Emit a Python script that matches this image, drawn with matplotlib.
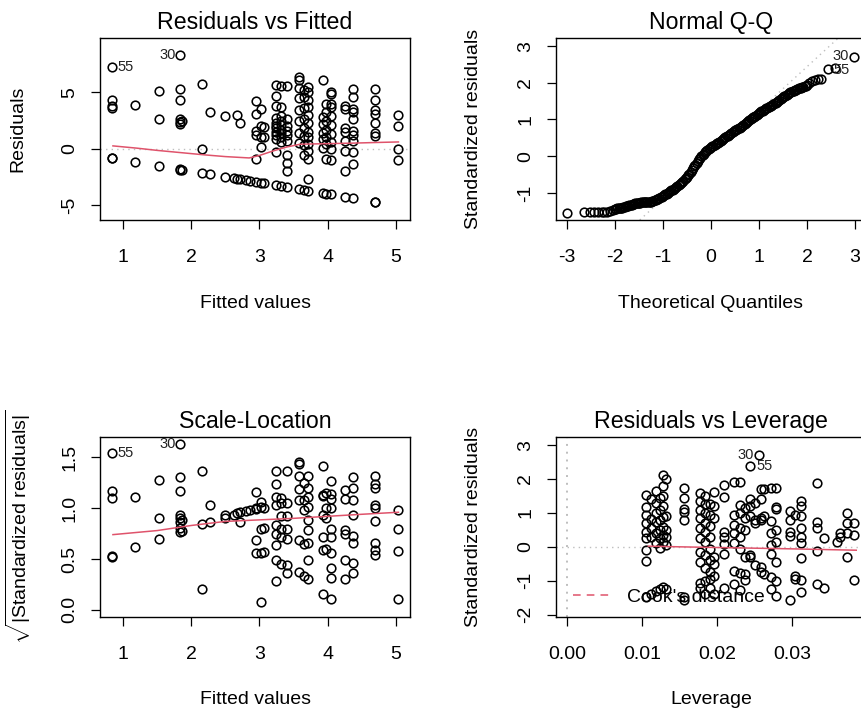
import matplotlib
matplotlib.use('Agg')
import matplotlib.pyplot as plt
from matplotlib.lines import Line2D
import numpy as np

plt.rcParams['font.family'] = 'Liberation Sans'
plt.rcParams['mathtext.fontset'] = 'custom'
plt.rcParams['mathtext.rm'] = 'Liberation Sans'
plt.rcParams['mathtext.it'] = 'Liberation Sans:italic'
plt.rcParams['axes.unicode_minus'] = False

RED = '#DF536B'
GRAY = '#BEBEBE'

# ---- Residuals vs Fitted: (fitted value, residuals at that fitted value)
rvf_columns = [
    (0.83, [7.26, 4.35, 3.75, 3.65, -0.83, -0.85]),
    (1.18, [3.9, -1.18]),
    (1.52, [5.09, 2.6, -1.52]),
    (1.84, [8.28, 5.3, 4.35, 2.6, 2.35, 2.15, -1.84, -1.86]),
    (1.87, [2.5, -1.87]),
    (2.16, [5.78, -0.03, -2.16]),
    (2.28, [3.3, -2.28]),
    (2.49, [2.86, -2.49]),
    (2.63, [-2.63]),
    (2.67, [2.97, -2.67]),
    (2.72, [2.32, -2.72]),
    (2.80, [-2.80]),
    (2.86, [-2.86]),
    (2.95, [4.2, 3.1, 1.6, 1.2, -0.9, -2.95]),
    (3.03, [3.57, 2.05, 1.07, 0.18, -3.03]),
    (3.07, [1.9, 1.0, -3.07]),
    (3.25, [5.7, 4.7, 3.8, 2.7, 2.3, 2.0, 1.8, 1.5, 1.2, 0.9, -0.3, -3.25]),
    (3.32, [5.6, 3.7, 2.9, 2.5, 2.1, 1.7, 1.4, 1.0, 0.6, -3.32]),
    (3.40, [5.6, 2.6, 2.0, 1.6, 1.2, 0.7, -0.6, -1.3, -2.0, -3.40]),
    (3.58, [6.4, 6.1, 5.4, 4.5, 3.4, 2.5, 1.4, 0.5, -3.58]),
    (3.65, [5.2, 4.6, 3.6, 2.6, 1.8, 1.1, 0.3, -0.6, -3.65]),
    (3.72, [5.5, 5.0, 4.3, 3.7, 3.0, 2.3, 1.5, 1.0, 0.4, -0.2, -0.9, -2.7, -3.72]),
    (3.93, [6.1, 2.8, 2.2, 1.4, 0.9, 0.1, -3.93]),
    (3.98, [4.0, 3.3, 2.5, 1.7, 1.0, 0.4, -0.9, -3.98]),
    (4.05, [5.0, 4.9, 4.0, 3.7, 2.9, 2.1, 1.3, 0.6, 0.0, -1.0, -4.05]),
    (4.26, [3.8, 3.5, 1.8, 1.5, 0.7, -0.2, -2.0, -4.26]),
    (4.38, [5.3, 4.6, 3.5, 3.3, 2.6, 1.6, 1.2, 0.7, -0.3, -1.4, -4.38]),
    (4.70, [5.3, 4.3, 3.4, 3.1, 2.3, 1.4, 1.1, -4.70, -4.72]),
    (5.04, [3.0, 2.0, 0.0, -1.0]),
]
rvf_smooth_x = [0.85, 1.2, 1.5, 1.85, 2.2, 2.5, 2.85, 3.0, 3.2, 3.4, 3.6, 4.0, 4.4, 4.7, 5.04]
rvf_smooth_y = [0.25, 0.05, -0.15, -0.35, -0.55, -0.7, -0.82, -0.6, -0.2, 0.15, 0.4, 0.45, 0.5, 0.55, 0.6]
rvf_labels = [('55', 0.83, 7.26, 'right'), ('30', 1.84, 8.28, 'left')]

# ---- Normal Q-Q (theoretical quantile, standardized residual), read along the band
qq_theoretical = [
    -3.00, -2.65, -2.52, -2.43, -2.35, -2.28, -2.22, -2.16, -2.10, -2.05,
    -2.000, -1.975, -1.950, -1.925, -1.900, -1.875, -1.850, -1.825, -1.800, -1.775,
    -1.750, -1.725, -1.700, -1.675, -1.650, -1.625, -1.600, -1.575, -1.550, -1.525,
    -1.500, -1.475, -1.450, -1.425, -1.400, -1.375, -1.350, -1.325, -1.300, -1.275,
    -1.250, -1.225, -1.200, -1.175, -1.150, -1.125, -1.100, -1.075, -1.050, -1.025,
    -1.000, -0.975, -0.950, -0.925, -0.900, -0.875, -0.850, -0.825, -0.800, -0.775,
    -0.750, -0.725, -0.700, -0.675, -0.650, -0.625, -0.600, -0.575, -0.550, -0.525,
    -0.500, -0.475, -0.450, -0.425, -0.400, -0.375, -0.350, -0.325, -0.300, -0.275,
    -0.250, -0.225, -0.200, -0.175, -0.150, -0.125, -0.100, -0.075, -0.050, -0.025,
    0.000, 0.025, 0.050, 0.075, 0.100, 0.125, 0.150, 0.175, 0.200, 0.225,
    0.250, 0.275, 0.300, 0.325, 0.350, 0.375, 0.400, 0.425, 0.450, 0.475,
    0.500, 0.525, 0.550, 0.575, 0.600, 0.625, 0.650, 0.675, 0.700, 0.725,
    0.750, 0.775, 0.800, 0.825, 0.850, 0.875, 0.900, 0.925, 0.950, 0.975,
    1.000, 1.025, 1.050, 1.075, 1.100, 1.125, 1.150, 1.175, 1.200, 1.225,
    1.250, 1.275, 1.300, 1.325, 1.350, 1.375, 1.400, 1.425, 1.450, 1.475,
    1.500, 1.525, 1.550, 1.575, 1.600, 1.625, 1.650, 1.675, 1.700, 1.725,
    1.750, 1.775, 1.800, 1.825, 1.850, 1.875, 1.900, 1.925, 1.950, 1.975,
    2.00, 2.05, 2.10, 2.17, 2.23, 2.30, 2.43, 2.58, 2.98]
qq_std_resid = [
    -1.55, -1.53, -1.53, -1.53, -1.53, -1.52, -1.52, -1.51, -1.50, -1.48,
    -1.44, -1.43, -1.42, -1.415, -1.41, -1.405, -1.40, -1.39, -1.38, -1.37,
    -1.36, -1.35, -1.34, -1.33, -1.32, -1.31, -1.30, -1.29, -1.28, -1.275,
    -1.27, -1.265, -1.26, -1.255, -1.25, -1.25, -1.25, -1.245, -1.24, -1.24,
    -1.24, -1.23, -1.22, -1.205, -1.19, -1.175, -1.16, -1.14, -1.12, -1.10,
    -1.08, -1.06, -1.04, -1.02, -1.00, -0.975, -0.95, -0.93, -0.91, -0.885,
    -0.86, -0.83, -0.80, -0.775, -0.75, -0.725, -0.70, -0.665, -0.63, -0.595,
    -0.56, -0.52, -0.48, -0.43, -0.38, -0.33, -0.28, -0.23, -0.18, -0.13,
    -0.08, -0.04, 0.00, 0.035, 0.07, 0.10, 0.13, 0.16, 0.19, 0.215,
    0.24, 0.265, 0.29, 0.31, 0.33, 0.35, 0.37, 0.395, 0.42, 0.445,
    0.47, 0.495, 0.52, 0.54, 0.56, 0.585, 0.61, 0.63, 0.65, 0.675,
    0.70, 0.72, 0.74, 0.76, 0.78, 0.805, 0.83, 0.855, 0.88, 0.905,
    0.93, 0.955, 0.98, 1.005, 1.03, 1.055, 1.08, 1.105, 1.13, 1.155,
    1.18, 1.20, 1.22, 1.24, 1.26, 1.28, 1.30, 1.32, 1.34, 1.36,
    1.38, 1.40, 1.42, 1.44, 1.46, 1.485, 1.51, 1.535, 1.56, 1.585,
    1.61, 1.63, 1.65, 1.675, 1.70, 1.72, 1.74, 1.755, 1.77, 1.785,
    1.80, 1.815, 1.83, 1.845, 1.86, 1.87, 1.88, 1.895, 1.91, 1.925,
    1.94, 1.98, 2.04, 2.08, 2.09, 2.10, 2.38, 2.40, 2.71]
qq_line_pts = [(-1.31, -1.53), (2.57, 3.12)]
qq_labels = [('55', 2.43, 2.36, 'right'), ('30', 2.98, 2.73, 'left')]

# ---- Scale-Location: (fitted value, sqrt|standardized residual|)
sl_columns = [
    (0.83, [1.54, 1.17, 1.10, 0.52, 0.53]),
    (1.18, [1.11, 0.62]),
    (1.52, [1.28, 0.90, 0.70]),
    (1.84, [1.63, 1.31, 1.17, 0.93, 0.90, 0.86, 0.81, 0.77]),
    (1.87, [0.88, 0.78]),
    (2.16, [1.37, 0.84, 0.21]),
    (2.28, [1.03, 0.86]),
    (2.49, [0.93, 0.90]),
    (2.63, [0.93]),
    (2.67, [0.95]),
    (2.72, [0.96, 0.86]),
    (2.80, [0.97]),
    (2.86, [0.98]),
    (2.95, [1.16, 1.00, 0.99, 0.69, 0.56]),
    (3.03, [1.06, 1.01, 0.80, 0.56, 0.08]),
    (3.07, [1.00, 0.81, 0.57]),
    (3.25, [1.37, 1.24, 1.11, 1.03, 0.83, 0.75, 0.64, 0.49, 0.28]),
    (3.32, [1.10, 1.05, 0.92, 0.80, 0.72, 0.45]),
    (3.40, [1.37, 1.05, 0.92, 0.80, 0.70, 0.44, 0.36]),
    (3.58, [1.45, 1.43, 1.32, 1.19, 1.08, 0.69, 0.37]),
    (3.65, [1.25, 1.08, 0.98, 0.65, 0.33]),
    (3.72, [1.32, 1.20, 1.11, 1.01, 0.88, 0.79, 0.66, 0.49, 0.30]),
    (3.93, [1.41, 1.13, 1.12, 0.93, 0.72, 0.59, 0.16]),
    (3.98, [1.15, 1.00, 0.90, 0.60]),
    (4.05, [1.27, 1.14, 1.09, 1.00, 0.80, 0.72, 0.56, 0.41, 0.31, 0.11]),
    (4.26, [1.18, 1.09, 0.79, 0.75, 0.49, 0.30]),
    (4.38, [1.31, 1.20, 1.08, 0.93, 0.73, 0.66, 0.46, 0.36]),
    (4.70, [1.32, 1.24, 1.20, 1.03, 1.00, 0.87, 0.66, 0.59, 0.54]),
    (5.04, [0.98, 0.80, 0.58, 0.11]),
]
sl_smooth_x = [0.85, 1.5, 2.0, 2.5, 3.0, 3.5, 4.0, 4.5, 5.04]
sl_smooth_y = [0.74, 0.78, 0.83, 0.87, 0.885, 0.90, 0.92, 0.94, 0.96]
sl_labels = [('55', 0.83, 1.54, 'right'), ('30', 1.84, 1.63, 'left')]

# ---- Residuals vs Leverage: (leverage, standardized residuals)
rvl_columns = [
    (0.0105, [1.53, 1.18, 0.94, 0.69, 0.45, 0.25, -0.10, -0.43, -1.47]),
    (0.0112, [1.40, 0.82, 0.55, 0.30, -1.38]),
    (0.0118, [1.65, 1.30, 1.00, 0.72, 0.40, 0.10, -1.30]),
    (0.0124, [1.45, 1.10, 0.80, 0.50, 0.25, -0.02, -1.25]),
    (0.0128, [2.12, 1.80, 1.50, 1.20, 0.88, 0.58, 0.35, 0.15, -1.18]),
    (0.0132, [2.00, 0.90, 0.50, 0.30, 0.05, -1.24]),
    (0.0155, [1.75, 1.43, 1.12, 1.02, 0.79, -1.48, -1.58]),
    (0.0177, [1.60, 1.35, 1.10, 0.85, 0.55, 0.25, -0.15, -0.45, -1.07, -1.22]),
    (0.0183, [1.50, 1.25, 1.00, 0.70, 0.45, 0.15, -0.25, -0.62, -1.00, -1.38]),
    (0.0190, [1.25, 0.95, 0.60, 0.30, -0.05, -0.40, -0.75, -0.95, -1.20]),
    (0.0196, [1.62, 1.20, 0.85, -0.30, -0.50, -0.85, -1.40]),
    (0.0209, [1.82, 1.47, 0.43, 0.28, 0.08, -0.22, -1.20]),
    (0.0222, [1.92, 0.93, 0.64, 0.40, 0.10, -0.70, -1.10]),
    (0.0230, [1.92, 1.23, 1.00, 0.55, 0.28, -0.05, -0.78, -1.27]),
    (0.0237, [1.15, 0.85, 0.50, -0.30, -0.80, -0.98]),
    (0.0244, [2.38, 1.40, 1.20, 0.90, -0.25, -0.30]),
    (0.0250, [1.30, 0.80, 0.70, -0.55]),
    (0.0255, [2.70]),
    (0.0258, [1.70, 1.40, 0.85, 0.78, -0.60, -0.75]),
    (0.0262, [1.72, 0.90, -0.80]),
    (0.0271, [1.74, 0.75, 0.40, 0.05, -0.20, -0.90, -1.25]),
    (0.0278, [1.74, 1.17, 1.12, 0.50, 0.15, -0.45, -1.00, -1.44]),
    (0.0297, [1.05, 0.80, 0.43, 0.33, -1.56]),
    (0.0303, [0.95, -0.87, -0.95]),
    (0.0312, [1.35, 1.20, 0.90, 0.55, 0.30, 0.10, -0.32, -0.98, -1.32]),
    (0.0333, [1.88, 0.73, 0.55, -0.12, -1.10]),
    (0.0342, [0.27, -1.22]),
    (0.0360, [0.15]),
    (0.0364, [0.40, 0.30]),
    (0.0373, [0.99, 0.69, 0.40, -0.30]),
    (0.0382, [0.69, 0.35, -0.98]),
]
rvl_smooth_x = [0.0108, 0.015, 0.020, 0.025, 0.030, 0.0385]
rvl_smooth_y = [0.02, 0.0, -0.02, -0.04, -0.06, -0.10]
rvl_labels = [('55', 0.0244, 2.38, 'right'), ('30', 0.0255, 2.70, 'left')]

FIG_W, FIG_H = 861, 717
AX_W = 310


def expand(columns):
    xs, ys = [], []
    for x, vals in columns:
        xs.extend([x] * len(vals))
        ys.extend(vals)
    return np.array(xs), np.array(ys)


def make_axes(fig, left, top, bottom):
    return fig.add_axes([left / FIG_W, 1 - bottom / FIG_H,
                         AX_W / FIG_W, (bottom - top) / FIG_H])


def style(ax, title, xlabel, ylabel, xticks, xticklabels, yticks, yticklabels,
          xlim, ylim, h_px):
    ax.set_xlim(xlim)
    ax.set_ylim(ylim)
    ax.set_xticks(xticks, xticklabels)
    ax.set_yticks(yticks, yticklabels)
    ax.tick_params(direction='out', length=6.8, width=0.9, labelsize=14,
                   colors='black')
    ax.tick_params(axis='x', pad=14.0)
    ax.tick_params(axis='y', pad=9.0)
    for lab in ax.get_yticklabels():
        lab.set_rotation(90)
        lab.set_va('center')
    for sp in ax.spines.values():
        sp.set_linewidth(1.0)
        sp.set_color('black')
    ax.set_title(title, fontsize=16.7, pad=6.5)
    ax.set_xlabel(xlabel, fontsize=14)
    ax.set_ylabel(ylabel, fontsize=14)
    ax.xaxis.set_label_coords(0.5, -83 / h_px)
    ax.xaxis.label.set_va('center')
    ax.yaxis.set_label_coords(-82 / AX_W, 0.5)
    ax.yaxis.label.set_va('center')


def points(ax, x, y):
    ax.plot(x, y, ls='none', marker='o', ms=6.2, mfc='none', mec='black',
            mew=1.15, zorder=3)


def id_labels(ax, labels):
    for txt, x, y, side in labels:
        if side == 'right':
            ax.annotate(txt, (x, y), xytext=(4.5, 0), textcoords='offset points',
                        ha='left', va='center', fontsize=10.5, color='#222222')
        else:
            ax.annotate(txt, (x, y), xytext=(-3.5, 0), textcoords='offset points',
                        ha='right', va='center', fontsize=10.5, color='#222222')


fig = plt.figure(figsize=(FIG_W / 100, FIG_H / 100), dpi=100)

# Residuals vs Fitted
ax1 = make_axes(fig, 100, 38, 220)
ax1.axhline(0, color=GRAY, ls=(0, (1, 3)), lw=1.0, zorder=1)
x, y = expand(rvf_columns)
points(ax1, x, y)
ax1.plot(rvf_smooth_x, rvf_smooth_y, color=RED, lw=1.1, zorder=4)
id_labels(ax1, rvf_labels)
style(ax1, 'Residuals vs Fitted', 'Fitted values', 'Residuals',
      [1, 2, 3, 4, 5], ['1', '2', '3', '4', '5'], [-5, 0, 5], ['-5', '0', '5'],
      (0.66, 5.21), (-6.33, 9.83), 182)

# Normal Q-Q
ax2 = make_axes(fig, 556, 38, 220)
ax2.axline(qq_line_pts[0], qq_line_pts[1], color=GRAY, ls=(0, (1, 3)), lw=1.0, zorder=1)
points(ax2, qq_theoretical, qq_std_resid)
id_labels(ax2, qq_labels)
style(ax2, 'Normal Q-Q', 'Theoretical Quantiles', 'Standardized residuals',
      [-3, -2, -1, 0, 1, 2, 3], ['-3', '-2', '-1', '0', '1', '2', '3'],
      [-1, 0, 1, 2, 3], ['-1', '0', '1', '2', '3'],
      (-3.23, 3.23), (-1.74, 3.22), 182)

# Scale-Location
ax3 = make_axes(fig, 100, 437, 617)
x, y = expand(sl_columns)
points(ax3, x, y)
ax3.plot(sl_smooth_x, sl_smooth_y, color=RED, lw=1.1, zorder=4)
id_labels(ax3, sl_labels)
style(ax3, 'Scale-Location', 'Fitted values',
      r'$\sqrt{|\mathrm{Standardized\ residuals}|}$',
      [1, 2, 3, 4, 5], ['1', '2', '3', '4', '5'],
      [0.0, 0.5, 1.0, 1.5], ['0.0', '0.5', '1.0', '1.5'],
      (0.66, 5.21), (-0.07, 1.70), 180)

# Residuals vs Leverage
ax4 = make_axes(fig, 556, 437, 617)
ax4.axhline(0, color=GRAY, ls=(0, (1, 3)), lw=1.0, zorder=1)
ax4.axvline(0, color=GRAY, ls=(0, (1, 3)), lw=1.4, zorder=1)
x, y = expand(rvl_columns)
points(ax4, x, y)
ax4.plot(rvl_smooth_x, rvl_smooth_y, color=RED, lw=1.1, zorder=4)
id_labels(ax4, rvl_labels)
style(ax4, 'Residuals vs Leverage', 'Leverage', 'Standardized residuals',
      [0.0, 0.01, 0.02, 0.03], ['0.00', '0.01', '0.02', '0.03'],
      [-2, -1, 0, 1, 2, 3], ['-2', '-1', '0', '1', '2', '3'],
      (-0.0015, 0.0398), (-2.07, 3.24), 180)
cook = Line2D([], [], color=RED, ls=(0, (5, 4)), lw=1.1)
ax4.legend([cook], ["Cook's distance"], loc='lower left',
           bbox_to_anchor=(0.055, 0.06), frameon=False, fontsize=14,
           handlelength=1.9, handletextpad=0.9, borderpad=0, borderaxespad=0)

fig.savefig('out.png', dpi=100)
